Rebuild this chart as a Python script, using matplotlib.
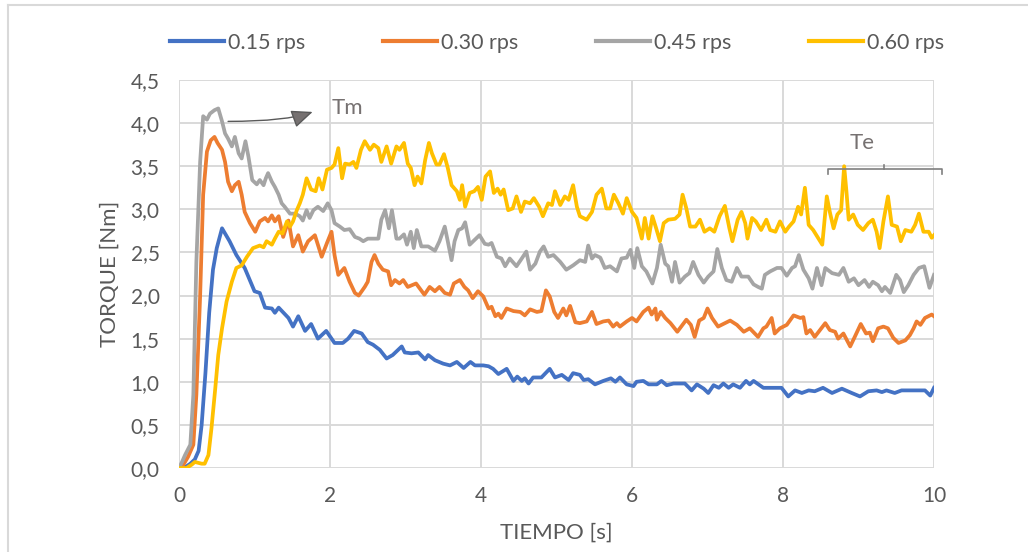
import matplotlib
matplotlib.use("Agg")
import matplotlib.pyplot as plt
from matplotlib.lines import Line2D
from matplotlib.ticker import FuncFormatter

plt.rcParams['font.family'] = ['Lato', 'DejaVu Sans']

# ---------------- data ----------------
t_015 = [0.0, 0.1, 0.15, 0.21, 0.26, 0.3, 0.35, 0.4, 0.45, 0.5, 0.57, 0.67, 0.76, 0.87, 1.0, 1.07, 1.14,
         1.23, 1.27, 1.32, 1.45, 1.51, 1.58, 1.67, 1.75, 1.84, 1.95, 2.06, 2.17, 2.24, 2.32, 2.42,
         2.5, 2.57, 2.66, 2.75, 2.83, 2.95, 2.99, 3.08, 3.17, 3.26, 3.3, 3.39, 3.5, 3.59, 3.68, 3.77,
         3.86, 3.92, 4.03, 4.1, 4.16, 4.23, 4.34, 4.43, 4.48, 4.54, 4.58, 4.63, 4.69, 4.8, 4.91,
         4.98, 5.07, 5.16, 5.22, 5.31, 5.36, 5.42, 5.51, 5.62, 5.72, 5.78, 5.84, 5.93, 6.02, 6.06,
         6.15, 6.22, 6.33, 6.39, 6.46, 6.55, 6.7, 6.79, 6.86, 6.95, 7.01, 7.08, 7.15, 7.21, 7.28,
         7.34, 7.43, 7.51, 7.56, 7.61, 7.74, 7.98, 8.07, 8.16, 8.25, 8.34, 8.42, 8.53, 8.65, 8.78,
         8.91, 9.02, 9.13, 9.24, 9.31, 9.37, 9.48, 9.57, 9.88, 9.95, 10.0]
y_015 = [0.0, 0.02, 0.05, 0.1, 0.2, 0.5, 1.1, 1.8, 2.3, 2.55, 2.78, 2.63, 2.47, 2.32, 2.05, 2.03, 1.86,
         1.85, 1.8, 1.86, 1.74, 1.64, 1.76, 1.59, 1.67, 1.5, 1.59, 1.45, 1.45, 1.5, 1.59, 1.56,
         1.46, 1.43, 1.37, 1.27, 1.31, 1.41, 1.34, 1.33, 1.34, 1.26, 1.31, 1.25, 1.21, 1.19, 1.23, 1.16,
         1.23, 1.19, 1.19, 1.18, 1.15, 1.09, 1.15, 1.01, 1.06, 1.01, 1.04, 0.98, 1.05, 1.05, 1.15,
         1.05, 1.08, 1.02, 1.1, 1.08, 1.02, 1.03, 0.97, 1.01, 1.04, 1.0, 1.05, 0.97, 0.95, 1.0,
         1.01, 0.97, 0.97, 1.01, 0.96, 0.98, 0.98, 0.9, 0.97, 0.92, 0.87, 0.96, 0.93, 0.98, 0.93,
         0.97, 0.93, 1.01, 0.97, 1.01, 0.93, 0.93, 0.83, 0.9, 0.87, 0.9, 0.89, 0.93, 0.87, 0.92,
         0.87, 0.83, 0.89, 0.9, 0.88, 0.9, 0.87, 0.9, 0.9, 0.84, 0.93]

t_030 = [0.0, 0.05, 0.08, 0.12, 0.19, 0.23, 0.28, 0.32, 0.37, 0.42, 0.47, 0.51, 0.57, 0.61, 0.65, 0.7,
         0.74, 0.79, 0.83, 0.87, 0.94, 1.01, 1.07, 1.14, 1.18, 1.23, 1.27, 1.32, 1.38, 1.45, 1.51,
         1.58, 1.64, 1.71, 1.8, 1.89, 1.96, 2.02, 2.06, 2.11, 2.19, 2.26, 2.33, 2.38, 2.46, 2.5,
         2.55, 2.59, 2.64, 2.7, 2.77, 2.81, 2.86, 2.92, 2.97, 3.03, 3.14, 3.25, 3.32, 3.39, 3.45,
         3.52, 3.59, 3.64, 3.72, 3.78, 3.83, 3.89, 3.96, 4.03, 4.1, 4.14, 4.19, 4.23, 4.27, 4.34,
         4.43, 4.52, 4.58, 4.65, 4.74, 4.8, 4.86, 4.91, 4.97, 5.02, 5.09, 5.13, 5.18, 5.25, 5.31,
         5.4, 5.47, 5.53, 5.62, 5.69, 5.75, 5.8, 5.84, 5.93, 6.0, 6.06, 6.15, 6.22, 6.26, 6.31,
         6.33, 6.38, 6.44, 6.51, 6.6, 6.72, 6.78, 6.83, 6.89, 6.95, 7.0, 7.06, 7.14, 7.21, 7.3,
         7.39, 7.48, 7.56, 7.67, 7.74, 7.78, 7.85, 7.89, 7.96, 8.05, 8.14, 8.23, 8.27, 8.31, 8.36,
         8.42, 8.49, 8.56, 8.62, 8.69, 8.73, 8.8, 8.89, 8.95, 9.03, 9.1, 9.15, 9.19, 9.26, 9.33,
         9.39, 9.46, 9.53, 9.62, 9.68, 9.73, 9.77, 9.82, 9.88, 9.97, 10.0]
y_030 = [0.0, 0.03, 0.07, 0.13, 0.27, 0.85, 2.0, 3.17, 3.67, 3.8, 3.84, 3.77, 3.69, 3.55, 3.32, 3.21,
         3.28, 3.32, 3.17, 2.97, 2.84, 2.74, 2.86, 2.9, 2.86, 2.93, 2.86, 2.92, 2.68, 2.87, 2.57,
         2.7, 2.51, 2.63, 2.7, 2.45, 2.61, 2.74, 2.47, 2.24, 2.32, 2.16, 2.03, 2.0, 2.1, 2.16,
         2.39, 2.47, 2.37, 2.3, 2.28, 2.12, 2.18, 2.14, 2.18, 2.1, 2.14, 2.01, 2.1, 2.05, 2.1,
         2.03, 2.01, 2.14, 2.18, 2.1, 2.06, 1.97, 2.05, 1.99, 1.85, 1.87, 1.76, 1.79, 1.74, 1.85,
         1.82, 1.81, 1.77, 1.84, 1.81, 1.82, 2.06, 1.99, 1.81, 1.74, 1.85, 1.77, 1.88, 1.69, 1.68,
         1.7, 1.81, 1.67, 1.7, 1.71, 1.64, 1.68, 1.64, 1.7, 1.74, 1.7, 1.81, 1.86, 1.78, 1.85,
         1.72, 1.81, 1.74, 1.68, 1.58, 1.72, 1.66, 1.52, 1.71, 1.74, 1.85, 1.74, 1.64, 1.67, 1.71,
         1.66, 1.58, 1.62, 1.52, 1.62, 1.64, 1.74, 1.56, 1.62, 1.66, 1.77, 1.74, 1.75, 1.56, 1.6,
         1.52, 1.6, 1.68, 1.6, 1.58, 1.5, 1.56, 1.41, 1.52, 1.67, 1.56, 1.57, 1.47, 1.62, 1.64,
         1.62, 1.51, 1.45, 1.48, 1.54, 1.62, 1.7, 1.66, 1.74, 1.78, 1.76]

t_045 = [0.0, 0.04, 0.08, 0.15, 0.19, 0.23, 0.28, 0.32, 0.37, 0.41, 0.47, 0.52, 0.57, 0.61, 0.65, 0.7,
         0.74, 0.79, 0.83, 0.88, 0.92, 0.97, 1.03, 1.07, 1.12, 1.15, 1.18, 1.23, 1.27, 1.32, 1.36,
         1.4, 1.47, 1.54, 1.6, 1.64, 1.69, 1.73, 1.78, 1.84, 1.91, 1.97, 2.02, 2.06, 2.13, 2.19,
         2.26, 2.33, 2.39, 2.44, 2.5, 2.59, 2.64, 2.68, 2.73, 2.78, 2.82, 2.88, 2.92, 2.98, 3.02,
         3.07, 3.11, 3.15, 3.21, 3.3, 3.39, 3.45, 3.52, 3.56, 3.61, 3.65, 3.7, 3.75, 3.79, 3.85,
         3.92, 3.98, 4.05, 4.1, 4.14, 4.21, 4.27, 4.32, 4.38, 4.47, 4.54, 4.6, 4.65, 4.72, 4.78,
         4.83, 4.89, 4.96, 5.05, 5.13, 5.22, 5.31, 5.38, 5.42, 5.47, 5.51, 5.58, 5.64, 5.71, 5.8,
         5.86, 5.93, 5.98, 6.03, 6.07, 6.13, 6.19, 6.27, 6.33, 6.38, 6.44, 6.48, 6.53, 6.57, 6.63,
         6.7, 6.76, 6.81, 6.88, 6.95, 7.01, 7.08, 7.13, 7.19, 7.25, 7.32, 7.39, 7.45, 7.54, 7.61,
         7.67, 7.72, 7.76, 7.83, 7.92, 7.98, 8.05, 8.12, 8.16, 8.21, 8.27, 8.34, 8.39, 8.45, 8.51,
         8.56, 8.65, 8.74, 8.8, 8.87, 8.94, 9.0, 9.08, 9.14, 9.19, 9.26, 9.31, 9.35, 9.42, 9.5,
         9.55, 9.6, 9.66, 9.73, 9.8, 9.87, 9.94, 10.0]
y_045 = [0.0, 0.07, 0.15, 0.27, 0.85, 2.39, 3.55, 4.08, 4.04, 4.11, 4.15, 4.17, 4.02, 3.88, 3.82, 3.73,
         3.84, 3.65, 3.59, 3.79, 3.61, 3.34, 3.29, 3.34, 3.28, 3.36, 3.42, 3.32, 3.26, 3.17, 3.07,
         3.03, 2.95, 2.95, 2.92, 2.87, 2.99, 2.9, 2.99, 3.03, 2.98, 3.07, 2.99, 2.84, 2.8, 2.76,
         2.77, 2.68, 2.66, 2.63, 2.66, 2.66, 2.66, 2.88, 2.99, 2.78, 2.99, 2.66, 2.66, 2.71, 2.59,
         2.74, 2.55, 2.76, 2.57, 2.57, 2.52, 2.63, 2.8, 2.63, 2.41, 2.63, 2.76, 2.78, 2.85, 2.59,
         2.65, 2.7, 2.6, 2.59, 2.61, 2.45, 2.43, 2.34, 2.43, 2.34, 2.43, 2.51, 2.3, 2.37, 2.51,
         2.57, 2.45, 2.47, 2.39, 2.3, 2.35, 2.41, 2.39, 2.58, 2.43, 2.47, 2.44, 2.32, 2.34, 2.28,
         2.43, 2.44, 2.53, 2.32, 2.55, 2.34, 2.28, 2.14, 2.32, 2.59, 2.37, 2.34, 2.16, 2.39, 2.15,
         2.22, 2.26, 2.39, 2.24, 2.15, 2.22, 2.28, 2.54, 2.32, 2.18, 2.16, 2.32, 2.22, 2.22, 2.13,
         2.1, 2.08, 2.24, 2.28, 2.32, 2.32, 2.23, 2.32, 2.34, 2.47, 2.3, 2.2, 2.08, 2.32, 2.12,
         2.32, 2.26, 2.24, 2.32, 2.16, 2.2, 2.12, 2.18, 2.1, 2.16, 2.12, 2.05, 2.1, 2.03, 2.24,
         2.18, 2.04, 2.12, 2.24, 2.32, 2.34, 2.09, 2.24]

t_060 = [0.0, 0.1, 0.17, 0.21, 0.3, 0.34, 0.39, 0.43, 0.48, 0.52, 0.57, 0.63, 0.7, 0.76, 0.83, 0.9,
         0.98, 1.07, 1.12, 1.16, 1.23, 1.27, 1.32, 1.37, 1.43, 1.47, 1.51, 1.56, 1.6, 1.64, 1.69,
         1.75, 1.81, 1.85, 1.9, 1.96, 2.02, 2.06, 2.11, 2.16, 2.2, 2.26, 2.31, 2.35, 2.41, 2.46,
         2.53, 2.58, 2.64, 2.68, 2.75, 2.81, 2.88, 2.92, 2.98, 3.03, 3.07, 3.12, 3.16, 3.21, 3.26,
         3.31, 3.35, 3.41, 3.45, 3.51, 3.56, 3.61, 3.68, 3.72, 3.75, 3.79, 3.85, 3.91, 3.96, 4.01,
         4.06, 4.12, 4.17, 4.22, 4.26, 4.3, 4.36, 4.42, 4.47, 4.53, 4.58, 4.65, 4.7, 4.77, 4.82,
         4.89, 4.94, 4.98, 5.05, 5.11, 5.16, 5.22, 5.27, 5.31, 5.4, 5.47, 5.53, 5.6, 5.66, 5.71,
         5.76, 5.82, 5.88, 5.93, 6.0, 6.06, 6.13, 6.17, 6.22, 6.27, 6.32, 6.37, 6.42, 6.48, 6.57,
         6.63, 6.67, 6.72, 6.77, 6.84, 6.9, 6.96, 7.03, 7.09, 7.16, 7.23, 7.29, 7.33, 7.4, 7.45,
         7.5, 7.53, 7.59, 7.64, 7.71, 7.78, 7.83, 7.9, 7.96, 8.03, 8.08, 8.14, 8.2, 8.24, 8.29,
         8.34, 8.4, 8.47, 8.52, 8.58, 8.62, 8.67, 8.72, 8.77, 8.81, 8.84, 8.87, 8.93, 8.99, 9.06,
         9.13, 9.19, 9.24, 9.28, 9.33, 9.39, 9.44, 9.51, 9.56, 9.62, 9.7, 9.75, 9.8, 9.86, 9.93,
         9.97, 10.0]
y_060 = [0.0, 0.0, 0.04, 0.07, 0.05, 0.05, 0.15, 0.46, 0.92, 1.31, 1.62, 1.93, 2.16, 2.32, 2.35, 2.45,
         2.55, 2.58, 2.56, 2.63, 2.59, 2.66, 2.74, 2.72, 2.86, 2.8, 2.86, 2.99, 3.07, 3.17, 3.36,
         3.23, 3.21, 3.36, 3.23, 3.46, 3.48, 3.52, 3.71, 3.36, 3.53, 3.52, 3.55, 3.48, 3.69, 3.79,
         3.69, 3.75, 3.71, 3.55, 3.73, 3.53, 3.73, 3.69, 3.77, 3.53, 3.48, 3.28, 3.38, 3.3, 3.57,
         3.77, 3.65, 3.52, 3.52, 3.64, 3.48, 3.28, 3.21, 3.11, 3.28, 3.03, 3.19, 3.21, 3.26, 3.11,
         3.38, 3.44, 3.19, 3.24, 3.17, 3.23, 2.99, 3.01, 3.15, 2.97, 3.09, 3.07, 3.13, 3.03, 2.92,
         3.07, 3.05, 3.21, 3.05, 3.15, 3.11, 3.28, 3.03, 2.92, 2.88, 2.97, 3.17, 3.24, 3.01, 3.01,
         3.17, 3.07, 2.95, 3.13, 2.97, 2.9, 2.66, 2.9, 2.66, 2.92, 2.78, 2.63, 2.84, 2.88, 2.89,
         2.94, 3.17, 3.01, 2.8, 2.8, 2.88, 2.74, 2.78, 2.74, 2.92, 3.04, 2.78, 2.63, 2.88, 2.97,
         2.84, 2.66, 2.9, 2.86, 2.76, 2.88, 2.76, 2.74, 2.86, 2.74, 2.8, 2.86, 3.03, 2.94, 3.25,
         2.82, 2.76, 2.66, 2.59, 3.15, 2.97, 2.78, 2.94, 2.99, 3.5, 3.21, 2.88, 2.94, 2.82, 2.76,
         2.84, 2.88, 2.74, 2.55, 2.86, 3.15, 2.82, 2.8, 2.63, 2.76, 2.74, 2.82, 2.95, 2.74, 2.74,
         2.67, 2.7]

series_labels = ["0.15 rps", "0.30 rps", "0.45 rps", "0.60 rps"]
series_colors = ["#4472C4", "#ED7D31", "#A5A5A5", "#FFC000"]
x_ticks = [0, 2, 4, 6, 8, 10]
y_ticks = [0.0, 0.5, 1.0, 1.5, 2.0, 2.5, 3.0, 3.5, 4.0, 4.5]
x_label = "TIEMPO [s]"
y_label = "TORQUE [Nm]"

# ---------------- figure ----------------
W, H = 1028, 552
fig = plt.figure(figsize=(W / 100, H / 100), dpi=100)
ax = fig.add_axes([179 / W, 1 - 468 / H, (934 - 179) / W, (468 - 80) / H])

text_col = "#595959"
grid_col = "#D9D9D9"

series = [(t_015, y_015), (t_030, y_030), (t_045, y_045), (t_060, y_060)]
for (tt, yy), lab, col in zip(series, series_labels, series_colors):
    ax.plot(tt, yy, color=col, lw=2.7, label=lab, solid_joinstyle='round', zorder=3)

ax.set_xlim(0, 10)
ax.set_ylim(0, 4.5)
ax.set_xticks(x_ticks)
ax.set_yticks(y_ticks)
ax.yaxis.set_major_formatter(FuncFormatter(lambda v, p: f"{v:.1f}".replace('.', ',')))
ax.grid(True, color=grid_col, lw=1.4, zorder=0)
ax.set_axisbelow(True)
for s in ax.spines.values():
    s.set_visible(False)
ax.tick_params(axis='both', length=0, labelsize=15, labelcolor=text_col)
ax.tick_params(axis='x', pad=13)
ax.tick_params(axis='y', pad=14)
ax.set_xlabel(x_label, fontsize=16, color=text_col, labelpad=12)
ax.set_ylabel(y_label, fontsize=16, color=text_col, labelpad=8)

# annotations
ann_col = "#767171"
ax.text(2.02, 4.18, "Tm", fontsize=16, color=ann_col, va='center', ha='left')
ax.annotate("", xy=(1.77, 4.13), xytext=(0.65, 4.02),
            arrowprops=dict(arrowstyle='-|>,head_length=1.3,head_width=0.55', color="#595959",
                            lw=1.0, connectionstyle="angle3,angleA=0,angleB=20",
                            shrinkA=0, shrinkB=0, fc="#767171"))
ax.text(9.05, 3.77, "Te", fontsize=16, color=ann_col, va='center', ha='center')
br_y = 3.465
ax.plot([8.59, 8.59, 10.11, 10.11], [br_y - 0.06, br_y, br_y, br_y - 0.06],
        color="#7F7F7F", lw=1.2, clip_on=False, zorder=4)
ax.plot([9.34, 9.34], [br_y, br_y + 0.05], color="#7F7F7F", lw=1.2, clip_on=False, zorder=4)

# legend
handles = [Line2D([0], [0], color=c, lw=3) for c in series_colors]
fig.legend(handles, series_labels, loc='center', bbox_to_anchor=(557 / W, 1 - 43 / H), ncol=4,
           frameon=False, fontsize=15.5, handlelength=2.5, handletextpad=0.2, columnspacing=3.6,
           labelcolor=text_col)

# chart-area border
fig.add_artist(Line2D([8 / W, 8 / W], [0, 1 - 5 / H], color=grid_col, lw=1.5))
fig.add_artist(Line2D([8 / W, 1], [1 - 5 / H, 1 - 5 / H], color=grid_col, lw=1.5))

fig.savefig("out.png", dpi=100)
